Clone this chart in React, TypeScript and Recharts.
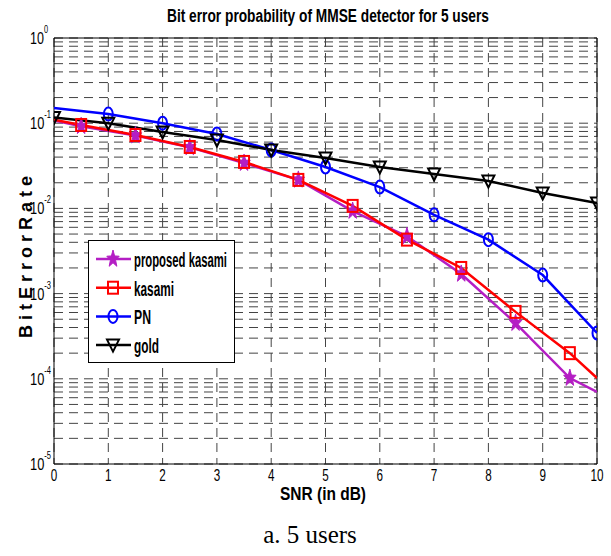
import React from "react";
import { CartesianGrid, Line, LineChart, ReferenceArea, XAxis, YAxis } from "recharts";

// SNR sample points (dB)
const snrIntegers = [0, 1, 2, 3, 4, 5, 6, 7, 8, 9, 10];
const snrHalfSteps = [0, 0.5, 1.5, 2.5, 3.5, 4.5, 5.5, 6.5, 7.5, 8.5, 9.5, 10];

// bit error rates per code family
const proposedKasamiBer = [0.108, 0.092, 0.0715, 0.052, 0.034, 0.0216, 0.0093, 0.0047, 0.0017, 0.00045, 0.000102, 0.00007];
const kasamiBer = [0.11, 0.0953, 0.0727, 0.0526, 0.0351, 0.0216, 0.0107, 0.0043, 0.002, 0.00061, 0.0002, 0.000102];
const pnBer = [0.151, 0.128, 0.1, 0.0747, 0.0485, 0.0306, 0.0178, 0.0084, 0.0043, 0.00165, 0.000345];
const goldBer = [0.117, 0.1, 0.0788, 0.0635, 0.0485, 0.0391, 0.0306, 0.0253, 0.021, 0.0152, 0.0116];

const xTicks = [0, 1, 2, 3, 4, 5, 6, 7, 8, 9, 10];
const decadeExponents = [-5, -4, -3, -2, -1, 0];
const minorMultipliers = [1, 2, 3, 4, 5, 6, 7, 8, 9];

const yTicks = decadeExponents
  .slice(0, -1)
  .flatMap((e) => minorMultipliers.map((m) => m * Math.pow(10, e)))
  .concat([1]);

const proposedData = snrHalfSteps.map((snr, i) => ({ snr, ber: proposedKasamiBer[i] }));
const kasamiData = snrHalfSteps.map((snr, i) => ({ snr, ber: kasamiBer[i] }));
const pnData = snrIntegers.map((snr, i) => ({ snr, ber: pnBer[i] }));
const goldData = snrIntegers.map((snr, i) => ({ snr, ber: goldBer[i] }));

const MAGENTA = "#b41ec4";
const RED = "#ff0000";
const BLUE = "#0000ff";
const BLACK = "#000000";
const NARROW = "'Liberation Sans Narrow', 'Liberation Sans', Arial, sans-serif";

const starPoints = (cx: number, cy: number, rx: number, ry: number) => {
  const pts: string[] = [];
  for (let k = 0; k < 10; k++) {
    const a = -Math.PI / 2 + (k * Math.PI) / 5;
    const f = k % 2 === 0 ? 1 : 0.42;
    pts.push(`${cx + Math.cos(a) * rx * f},${cy + Math.sin(a) * ry * f}`);
  }
  return pts.join(" ");
};

const Star = ({ cx, cy }: { cx: number; cy: number }) => (
  <polygon points={starPoints(cx, cy, 6.5, 9)} fill={MAGENTA} stroke={MAGENTA} strokeWidth={1} />
);
const Square = ({ cx, cy }: { cx: number; cy: number }) => (
  <rect x={cx - 5} y={cy - 6} width={10} height={12} fill="none" stroke={RED} strokeWidth={2} />
);
const Circle = ({ cx, cy }: { cx: number; cy: number }) => (
  <ellipse cx={cx} cy={cy} rx={4.5} ry={6.5} fill="none" stroke={BLUE} strokeWidth={2} />
);
const Triangle = ({ cx, cy }: { cx: number; cy: number }) => (
  <polygon
    points={`${cx - 6},${cy - 5.5} ${cx + 6},${cy - 5.5} ${cx},${cy + 6.5}`}
    fill="none"
    stroke={BLACK}
    strokeWidth={2}
  />
);

// markers skipped on the end points of the half-step curves and on PN at 0 dB
const makeDot =
  (Marker: React.FC<{ cx: number; cy: number }>, name: string, skip: (i: number, n: number) => boolean, n: number) =>
  (props: any) => {
    const { cx, cy, index } = props;
    if (skip(index, n) || cx == null || cy == null) return <g key={`${name}-${index}`} />;
    return (
      <g key={`${name}-${index}`}>
        <Marker cx={cx} cy={cy} />
      </g>
    );
  };

const skipEnds = (i: number, n: number) => i === 0 || i === n - 1;
const skipFirst = (i: number) => i === 0;
const skipNone = () => false;

const isDecade = (v: number) => Math.abs(Math.log10(v) - Math.round(Math.log10(v))) < 1e-6;

// "10" with a raised exponent, only on the decade ticks
const YTick = (props: any) => {
  const { y, payload } = props;
  const v = payload.value as number;
  if (!isDecade(v)) return <g />;
  const exp = Math.round(Math.log10(v));
  return (
    <text
      x={30}
      y={y + 6}
      fontFamily={NARROW}
      fontSize={17}
      fill="#000"
      textLength={exp < 0 ? 21 : 18}
      lengthAdjust="spacingAndGlyphs"
    >
      10
      <tspan dy={-11} fontSize={10}>
        {exp}
      </tspan>
    </text>
  );
};

const XTick = (props: any) => {
  const { x, payload } = props;
  const label = String(payload.value);
  return (
    <text
      x={x}
      y={481}
      fontFamily={NARROW}
      fontSize={17}
      textAnchor="middle"
      textLength={label.length * 6.5}
      lengthAdjust="spacingAndGlyphs"
      fill="#000"
    >
      {label}
    </text>
  );
};

const legendItems = [
  { label: "proposed kasami", color: MAGENTA, Marker: Star, width: 93 },
  { label: "kasami", color: RED, Marker: Square, width: 40 },
  { label: "PN", color: BLUE, Marker: Circle, width: 17 },
  { label: "gold", color: BLACK, Marker: Triangle, width: 25 },
];

export default function App() {
  return (
    <div style={{ position: "absolute", left: 0, top: 0, width: 611, height: 556, background: "#fff" }}>
      <LineChart width={611} height={556} margin={{ top: 38, right: 14, bottom: 62, left: 10 }}>
        <CartesianGrid stroke="#444" strokeWidth={1} strokeDasharray="9 6" />
        <XAxis
          dataKey="snr"
          type="number"
          domain={[0, 10]}
          ticks={xTicks}
          height={30}
          axisLine={false}
          tickLine={false}
          tick={<XTick />}
          allowDataOverflow
        />
        <YAxis
          type="number"
          scale="log"
          domain={[1e-5, 1]}
          ticks={yTicks}
          width={44}
          axisLine={false}
          tickLine={false}
          tick={<YTick />}
          interval={0}
          allowDataOverflow
        />
        <ReferenceArea x1={0} x2={10} y1={1e-5} y2={1} fill="none" stroke="#000" strokeWidth={1} ifOverflow="visible" />
        <Line
          data={proposedData}
          dataKey="ber"
          type="linear"
          stroke={MAGENTA}
          strokeWidth={2.5}
          dot={makeDot(Star, "pk", skipEnds, proposedData.length)}
          isAnimationActive={false}
        />
        <Line
          data={kasamiData}
          dataKey="ber"
          type="linear"
          stroke={RED}
          strokeWidth={2.5}
          dot={makeDot(Square, "k", skipEnds, kasamiData.length)}
          isAnimationActive={false}
        />
        <Line
          data={pnData}
          dataKey="ber"
          type="linear"
          stroke={BLUE}
          strokeWidth={2.5}
          dot={makeDot(Circle, "pn", skipFirst, pnData.length)}
          isAnimationActive={false}
        />
        <Line
          data={goldData}
          dataKey="ber"
          type="linear"
          stroke={BLACK}
          strokeWidth={2.5}
          dot={makeDot(Triangle, "g", skipNone, goldData.length)}
          isAnimationActive={false}
        />
      </LineChart>

      <svg
        width={611}
        height={556}
        style={{ position: "absolute", left: 0, top: 0, pointerEvents: "none" }}
      >
        <text
          x={328}
          y={22}
          textAnchor="middle"
          fontFamily={NARROW}
          fontWeight="bold"
          fontSize={18}
          textLength={322}
          lengthAdjust="spacingAndGlyphs"
        >
          Bit error probability of MMSE detector for 5 users
        </text>
        <text
          x={0}
          y={0}
          transform="translate(32 257) rotate(-90)"
          textAnchor="middle"
          fontFamily="'Liberation Sans', Arial, sans-serif"
          fontWeight="bold"
          fontSize={18}
          style={{ whiteSpace: "pre" }}
        >
          B i t E r r o r R a t e
        </text>
        <text
          x={323}
          y={500}
          textAnchor="middle"
          fontFamily={NARROW}
          fontWeight="bold"
          fontSize={19}
          textLength={86}
          lengthAdjust="spacingAndGlyphs"
        >
          SNR (in dB)
        </text>
        <text
          x={310}
          y={543}
          textAnchor="middle"
          fontFamily="'Liberation Serif', 'Times New Roman', serif"
          fontSize={25}
        >
          a. 5 users
        </text>

        <rect x={88.5} y={240.5} width={146} height={122} fill="#fff" stroke="#000" strokeWidth={1} />
        {legendItems.map((item, i) => {
          const cy = 259 + i * 28.7;
          const M = item.Marker;
          return (
            <g key={item.label}>
              <line x1={96} x2={131} y1={cy} y2={cy} stroke={item.color} strokeWidth={2.5} />
              <M cx={113} cy={cy} />
              <text
                x={134}
                y={cy + 8}
                fontFamily={NARROW}
                fontWeight="bold"
                fontSize={20}
                textLength={item.width}
                lengthAdjust="spacingAndGlyphs"
              >
                {item.label}
              </text>
            </g>
          );
        })}
      </svg>
    </div>
  );
}
